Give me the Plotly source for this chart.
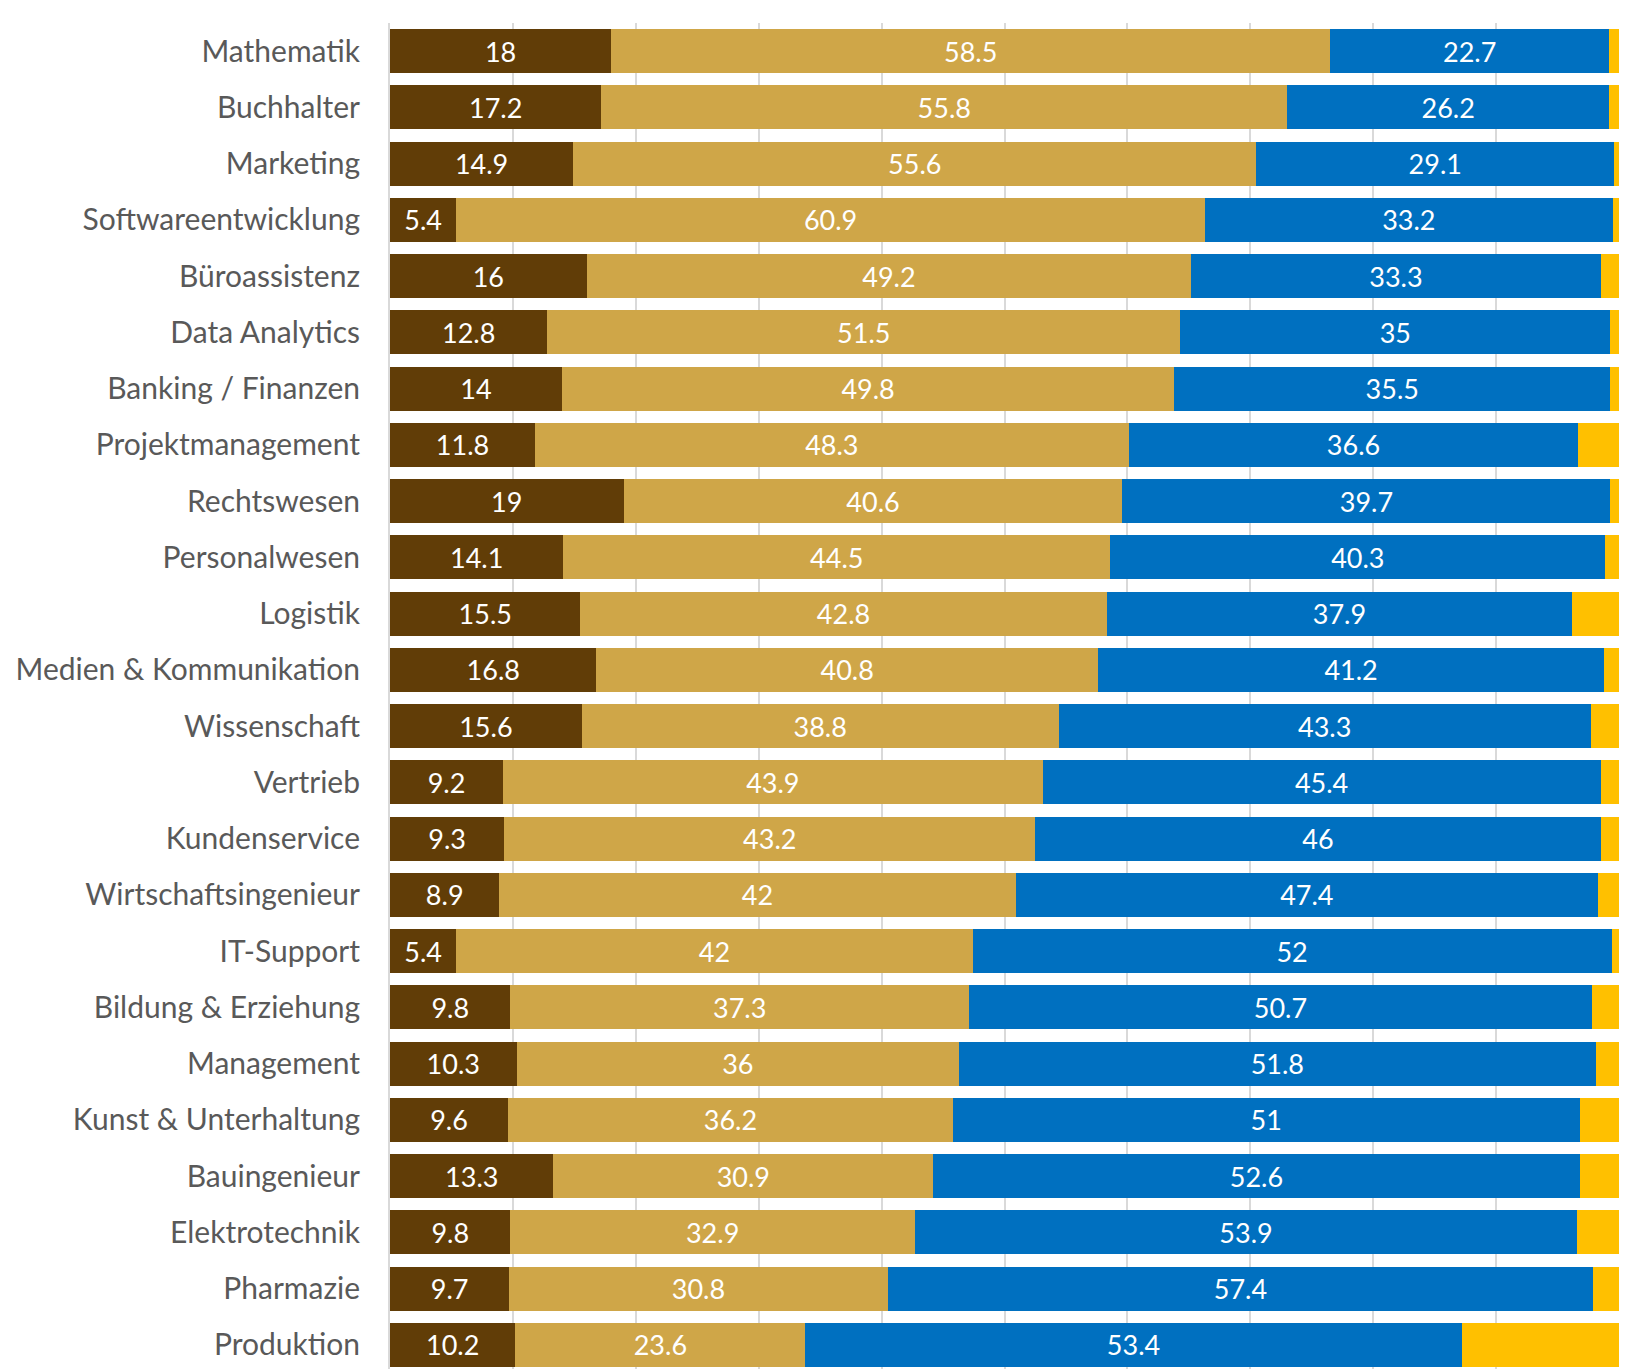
import plotly.graph_objects as go

categories = ["Mathematik", "Buchhalter", "Marketing", "Softwareentwicklung", "Büroassistenz",
              "Data Analytics", "Banking / Finanzen", "Projektmanagement", "Rechtswesen",
              "Personalwesen", "Logistik", "Medien & Kommunikation", "Wissenschaft", "Vertrieb",
              "Kundenservice", "Wirtschaftsingenieur", "IT-Support", "Bildung & Erziehung",
              "Management", "Kunst & Unterhaltung", "Bauingenieur", "Elektrotechnik",
              "Pharmazie", "Produktion"]

series_dark = [18, 17.2, 14.9, 5.4, 16, 12.8, 14, 11.8, 19, 14.1, 15.5, 16.8, 15.6, 9.2, 9.3,
               8.9, 5.4, 9.8, 10.3, 9.6, 13.3, 9.8, 9.7, 10.2]
series_tan = [58.5, 55.8, 55.6, 60.9, 49.2, 51.5, 49.8, 48.3, 40.6, 44.5, 42.8, 40.8, 38.8,
              43.9, 43.2, 42, 42, 37.3, 36, 36.2, 30.9, 32.9, 30.8, 23.6]
series_blue = [22.7, 26.2, 29.1, 33.2, 33.3, 35, 35.5, 36.6, 39.7, 40.3, 37.9, 41.2, 43.3,
               45.4, 46, 47.4, 52, 50.7, 51.8, 51, 52.6, 53.9, 57.4, 53.4]
series_yellow = [0.8, 0.8, 0.4, 0.5, 1.5, 0.7, 0.7, 3.3, 0.7, 1.1, 3.8, 1.2, 2.3, 1.5, 1.5,
                 1.7, 0.6, 2.2, 1.9, 3.2, 3.2, 3.4, 2.1, 12.8]

colors = ["#613d07", "#cfa648", "#0070c0", "#ffc000"]
FONT = "Lato, 'Open Sans', sans-serif"

fig = go.Figure()
for vals, col, lab in [(series_dark, colors[0], True), (series_tan, colors[1], True),
                       (series_blue, colors[2], True), (series_yellow, colors[3], False)]:
    fig.add_trace(go.Bar(
        y=categories, x=vals, orientation="h",
        marker=dict(color=col, line=dict(width=0)),
        text=[f"{v:g}" for v in vals] if lab else None,
        textposition="inside" if lab else "none",
        insidetextanchor="middle",
        textangle=0,
        textfont=dict(color="white", size=27, family=FONT),
        hoverinfo="skip",
    ))

n = len(categories)
fig.update_layout(
    barmode="stack",
    bargap=0.22,
    width=1638, height=1369,
    margin=dict(l=382, r=27, t=15, b=0),
    plot_bgcolor="white", paper_bgcolor="white",
    showlegend=False,
    uniformtext=dict(minsize=27, mode="show"),
    font=dict(family=FONT),
    xaxis=dict(range=[0, 100], dtick=10, showgrid=True, gridcolor="#d9d9d9", gridwidth=2,
               showticklabels=False, zeroline=False, showline=False, fixedrange=True),
    yaxis=dict(categoryorder="array", categoryarray=categories,
               range=[n - 0.5 + 0.07, -0.5],
               tickfont=dict(size=30, color="#595959", family=FONT),
               ticklabelstandoff=22, ticks="",
               showline=True, linecolor="#d9d9d9", linewidth=2, showgrid=False),
)
fig.write_html("out.html")
